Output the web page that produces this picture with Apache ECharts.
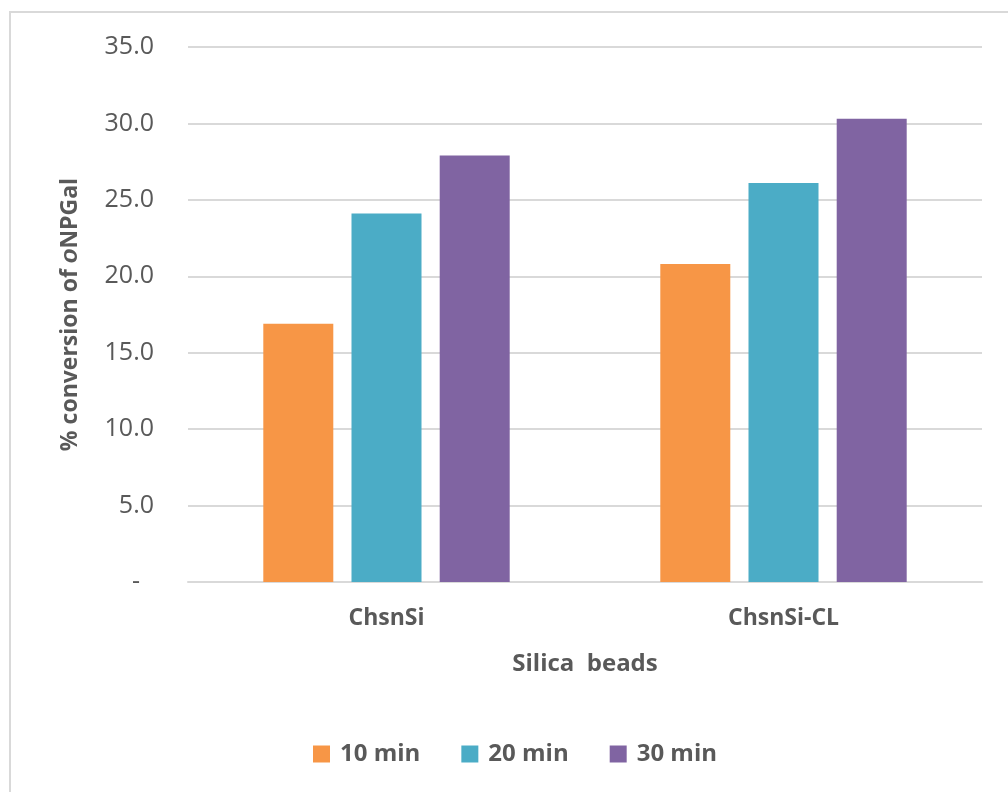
<!DOCTYPE html>
<html>
<head>
<meta charset="utf-8">
<script src="https://cdn.jsdelivr.net/npm/echarts@6/dist/echarts.min.js"></script>
<style>
  html, body { margin: 0; padding: 0; background: #fff; }
  #chart { width: 1008px; height: 792px; }
</style>
</head>
<body>
<div id="chart"></div>
<script>
// Bead types on the x axis
const categories = ['ChsnSi', 'ChsnSi-CL'];
// Reaction times shown in the legend
const seriesNames = ['10 min', '20 min', '30 min'];
// % conversion of oNPGal per bead type, one array per time point
const values10 = [16.9, 20.8];
const values20 = [24.1, 26.1];
const values30 = [27.9, 30.3];
const colors = ['#F79646', '#4BACC6', '#8064A2'];

const font = '"Open Sans", "Noto Sans", sans-serif';
const italicFont = '"Liberation Sans", "DejaVu Sans", sans-serif';
const textGray = '#595959';

const chart = echarts.init(document.getElementById('chart'), null, { renderer: 'canvas' });

const seriesData = [values10, values20, values30];

chart.setOption({
  backgroundColor: '#fff',
  animation: false,
  color: colors,
  graphic: [{
    type: 'rect',
    shape: { x: 10, y: 12, width: 1200, height: 1000 },
    style: { fill: 'none', stroke: '#D9D9D9', lineWidth: 2 },
    silent: true,
    z: -1
  }],
  grid: { left: 188, right: 26, top: 47, bottom: 210, containLabel: false },
  legend: {
    data: seriesNames,
    left: 308,
    top: 737,
    itemWidth: 17,
    itemHeight: 17,
    itemGap: 41,
    icon: 'rect',
    textStyle: { fontFamily: font, fontSize: 24, fontWeight: 'bold', color: textGray, padding: [0, 0, 0, 5] }
  },
  xAxis: {
    type: 'category',
    data: categories,
    name: 'Silica  beads',
    nameLocation: 'middle',
    nameGap: 70,
    nameTextStyle: { fontFamily: font, fontSize: 24, fontWeight: 'bold', color: textGray },
    axisLine: { show: true, lineStyle: { color: '#D9D9D9', width: 2 } },
    axisTick: { show: false },
    axisLabel: { fontFamily: font, fontSize: 23, fontWeight: 'bold', color: textGray, margin: 25 }
  },
  yAxis: {
    type: 'value',
    min: 0,
    max: 35,
    interval: 5,
    name: '% conversion of {i|o}NPGal',
    nameLocation: 'middle',
    nameGap: 106,
    nameTextStyle: {
      fontFamily: font, fontSize: 23, fontWeight: 'bold', color: textGray,
      rich: { i: { fontFamily: italicFont, fontSize: 24, fontWeight: 'bold', fontStyle: 'italic', color: textGray } }
    },
    axisLine: { show: false },
    axisTick: { show: false },
    splitLine: { lineStyle: { color: '#D9D9D9', width: 2 } },
    axisLabel: {
      fontFamily: font, fontSize: 25, color: textGray, margin: 34,
      formatter: v => v === 0 ? '{d|-}' : v.toFixed(1),
      rich: { d: { fontFamily: font, fontSize: 25, color: textGray, padding: [0, 14, 0, 0] } }
    }
  },
  series: seriesNames.map((name, i) => ({
    name,
    type: 'bar',
    data: seriesData[i],
    barWidth: 70,
    barGap: '26%',
    itemStyle: { color: colors[i] }
  }))
});
</script>
</body>
</html>
